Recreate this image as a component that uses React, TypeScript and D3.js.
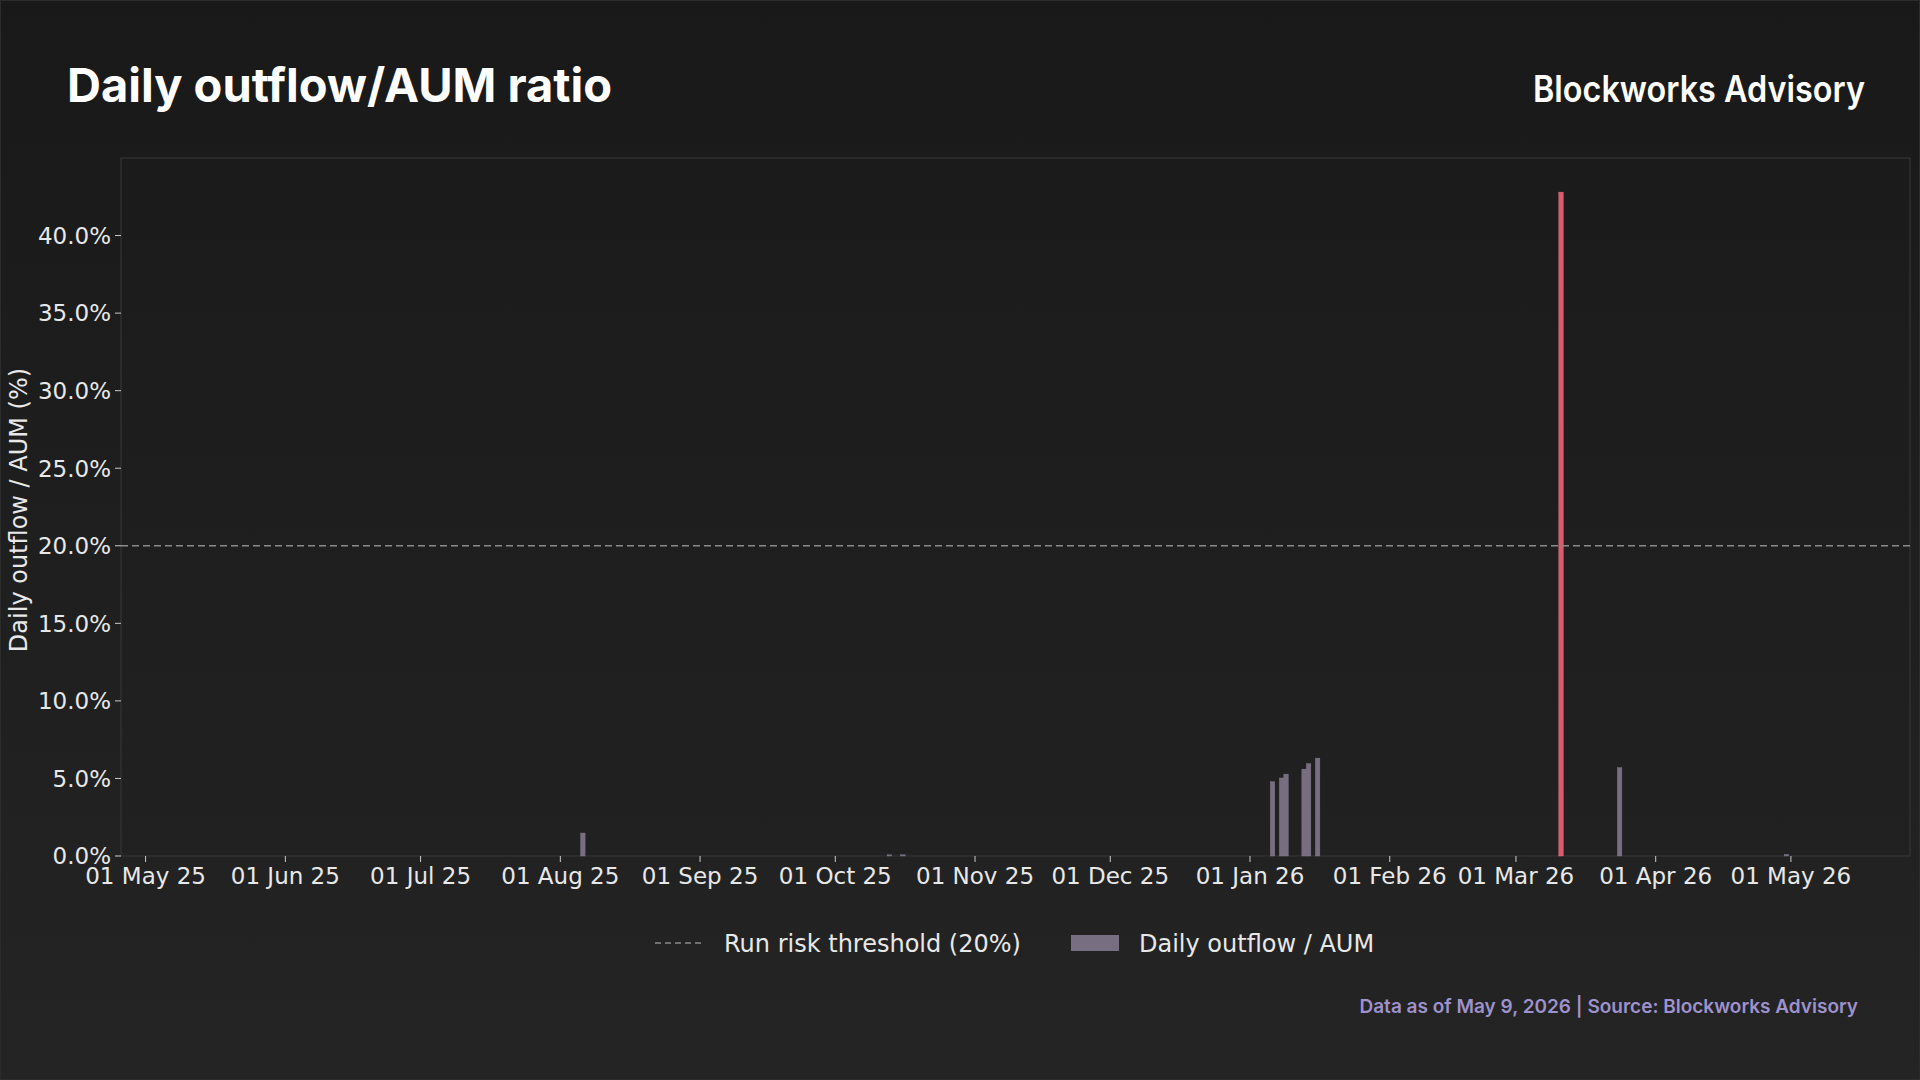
import React from "react";
import * as d3 from "d3";

const eventDates = ["2025-08-06", "2025-10-13", "2025-10-16", "2026-01-06", "2026-01-08", "2026-01-09", "2026-01-13", "2026-01-14", "2026-01-16", "2026-03-11", "2026-03-24", "2026-04-30"];
const outflowPct = [1.48, 0.05, 0.05, 4.79, 5.03, 5.28, 5.6, 5.95, 6.31, 42.8, 5.7, 0.1];
const thresholdPct = 20;
const yTicks = [0, 5, 10, 15, 20, 25, 30, 35, 40];
const xTickDates = ["2025-05-01", "2025-06-01", "2025-07-01", "2025-08-01", "2025-09-01", "2025-10-01", "2025-11-01", "2025-12-01", "2026-01-01", "2026-02-01", "2026-03-01", "2026-04-01", "2026-05-01"];
const xDomain = ["2025-04-25T13:00:00Z", "2026-05-27T10:00:00Z"];

const W = 1920, H = 1080;
const plot = { left: 121, right: 1910, top: 158, bottom: 856 };

export default function App() {
  const x = d3.scaleUtc().domain(xDomain.map((d) => new Date(d))).range([plot.left, plot.right]);
  const y = d3.scaleLinear().domain([0, 45]).range([plot.bottom, plot.top]);
  const fmtX = d3.utcFormat("%d %b %y");
  const dayW = x(new Date("2025-06-02T00:00:00Z")) - x(new Date("2025-06-01T00:00:00Z"));
  const font = "'DejaVu Sans', sans-serif";
  return (
    <div style={{ position: "fixed", left: 0, top: 0 }}>
      <svg width={W} height={H} style={{ display: "block" }}>
        <defs>
          <linearGradient id="bg" x1="0" y1="0" x2="0" y2="1">
            <stop offset="0" stopColor="#191919" />
            <stop offset="1" stopColor="#242424" />
          </linearGradient>
          <linearGradient id="pbg" x1="0" y1="0" x2="0" y2="1">
            <stop offset="0" stopColor="#1b1b1b" />
            <stop offset="1" stopColor="#212121" />
          </linearGradient>
        </defs>
        <rect x={0} y={0} width={W} height={H} fill="url(#bg)" />
        <rect x={0.5} y={0.5} width={W - 1} height={H - 1} fill="none" stroke="#2c2c2c" />
        <text x={67} y={102} fill="#ffffff" fontFamily="Inter, sans-serif" fontWeight={700} fontSize={47} textLength={545} lengthAdjust="spacingAndGlyphs">Daily outflow/AUM ratio</text>
        <text x={1533} y={102} fill="#ffffff" fontFamily="Inter, sans-serif" fontWeight={600} fontSize={37} textLength={332} lengthAdjust="spacingAndGlyphs">Blockworks Advisory</text>

        <rect x={plot.left} y={plot.top} width={plot.right - plot.left} height={plot.bottom - plot.top} fill="url(#pbg)" stroke="#353535" strokeWidth={1.2} />

        {yTicks.map((t) => (
          <g key={t}>
            <line x1={plot.left - 6} x2={plot.left} y1={y(t)} y2={y(t)} stroke="#cccccc" strokeWidth={1} />
            <text x={plot.left - 10} y={y(t)} dy="0.36em" textAnchor="end" fill="#e8e8e8" fontFamily={font} fontSize={23}>{t.toFixed(1) + "%"}</text>
          </g>
        ))}
        {xTickDates.map((d) => {
          const xx = x(new Date(d + "T00:00:00Z"));
          return (
            <g key={d}>
              <line x1={xx} x2={xx} y1={plot.bottom} y2={plot.bottom + 6} stroke="#cccccc" strokeWidth={1} />
              <text x={xx} y={plot.bottom + 28} textAnchor="middle" fill="#e8e8e8" fontFamily={font} fontSize={23}>{fmtX(new Date(d + "T00:00:00Z"))}</text>
            </g>
          );
        })}
        <text transform={`translate(27,${(plot.top + plot.bottom) / 2 + 3}) rotate(-90)`} textAnchor="middle" fill="#e8e8e8" fontFamily={font} fontSize={24}>Daily outflow / AUM (%)</text>

        {eventDates.map((d, i) => {
          const v = outflowPct[i];
          const cx = x(new Date(d + "T00:00:00Z"));
          const top = y(v);
          const h = Math.max(plot.bottom - top, 1.2);
          return (
            <rect key={d} x={cx - dayW / 2} y={plot.bottom - h} width={dayW} height={h}
              fill={v > thresholdPct ? "#d95b6d" : "#776e82"} stroke={v > thresholdPct ? "#e0707f" : "#847a8e"} strokeWidth={0.4} />
          );
        })}
        <line x1={plot.left} x2={plot.right} y1={y(thresholdPct)} y2={y(thresholdPct)} stroke="#8a8a8a" strokeWidth={1.6} strokeDasharray="7,4" />

        <line x1={655} x2={704} y1={943} y2={943} stroke="#8a8a8a" strokeWidth={1.6} strokeDasharray="6,4" />
        <text x={724} y={943} dy="0.36em" fill="#e8e8e8" fontFamily={font} fontSize={24}>Run risk threshold (20%)</text>
        <rect x={1071} y={935} width={48} height={16} fill="#776e82" />
        <text x={1139} y={943} dy="0.36em" fill="#e8e8e8" fontFamily={font} fontSize={24}>Daily outflow / AUM</text>

        <text x={1858} y={1013} textAnchor="end" fill="#9d92cc" fontFamily="Inter, sans-serif" fontWeight={600} fontSize={19}>Data as of May 9, 2026 | Source: Blockworks Advisory</text>
      </svg>
    </div>
  );
}
